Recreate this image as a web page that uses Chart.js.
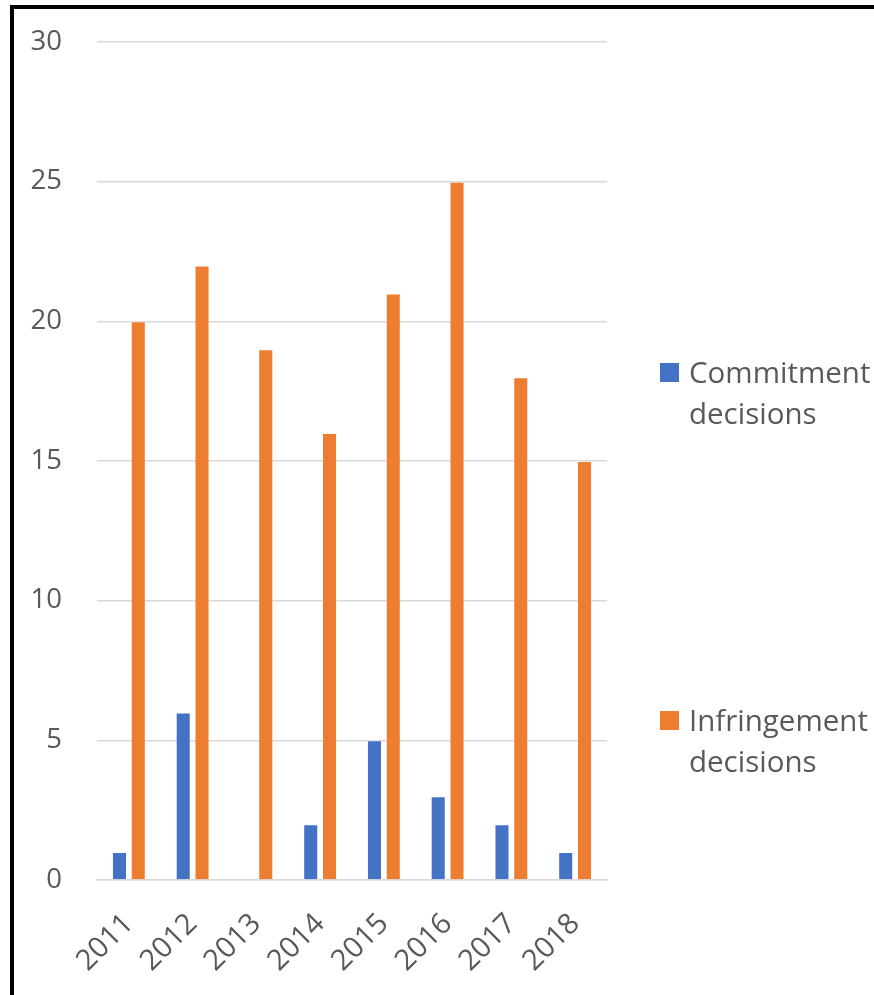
<!DOCTYPE html>
<html lang="en">
<head>
    <meta charset="UTF-8">
    <title>Commitment and infringement decisions</title>
    <style>
        html, body { margin: 0; padding: 0; background: #fff; }
        #wrap { position: relative; width: 874px; height: 995px; overflow: hidden; }
        #frame {
            position: absolute; left: 10px; top: 5px; width: 900px; height: 1000px;
            border-left: 4px solid #000; border-top: 4px solid #000; pointer-events: none;
        }
        canvas { position: absolute; left: 0; top: 0; }
    </style>
</head>
<body>
    <div id="wrap">
        <canvas id="decisionsChart" width="874" height="995"></canvas>
        <div id="frame"></div>
    </div>

    <script src="https://cdn.jsdelivr.net/npm/chart.js"></script>
    <script>
        const years = ['2011', '2012', '2013', '2014', '2015', '2016', '2017', '2018'];
        const commitment = [1, 6, 0, 2, 5, 3, 2, 1];
        const infringement = [20, 22, 19, 16, 21, 25, 18, 15];
        const seriesNames = [['Commitment', 'decisions'], ['Infringement', 'decisions']];

        const fontFamily = '"Open Sans", "Noto Sans", sans-serif';

        // legend drawn on the right, each entry spread like the original
        const sideLegend = {
            id: 'sideLegend',
            afterDraw(chart) {
                const ctx = chart.ctx;
                const tops = [363, 711];
                ctx.save();
                chart.data.datasets.forEach((ds, i) => {
                    const x = chart.chartArea.right + 53;
                    const y = tops[i];
                    ctx.fillStyle = ds.backgroundColor;
                    ctx.fillRect(x, y, 19, 19);
                    ctx.fillStyle = '#595959';
                    ctx.font = '29.5px ' + fontFamily;
                    ctx.textBaseline = 'alphabetic';
                    ctx.textAlign = 'left';
                    ds.label.forEach((line, j) => {
                        ctx.fillText(line, x + 29, y + 20 + j * 41);
                    });
                });
                ctx.restore();
            }
        };

        const ctx = document.getElementById('decisionsChart').getContext('2d');
        new Chart(ctx, {
            type: 'bar',
            data: {
                labels: years,
                datasets: [
                    {
                        label: seriesNames[0],
                        data: commitment,
                        backgroundColor: '#4472C4',
                        borderColor: 'rgba(255,255,255,0.3)',
                        borderWidth: 1
                    },
                    {
                        label: seriesNames[1],
                        data: infringement,
                        backgroundColor: '#ED7D31',
                        borderColor: 'rgba(255,255,255,0.3)',
                        borderWidth: 1
                    }
                ]
            },
            options: {
                responsive: false,
                animation: false,
                categoryPercentage: 0.59,
                barPercentage: 0.8,
                layout: {
                    padding: { top: 42, right: 267, left: 0, bottom: 0 }
                },
                scales: {
                    x: {
                        afterFit(scale) { scale.height = 115; },
                        grid: { display: false, drawTicks: false },
                        border: { display: true, color: '#d9d9d9', width: 1.5 },
                        ticks: {
                            color: '#595959',
                            font: { family: fontFamily, size: 29 },
                            maxRotation: 45,
                            minRotation: 45,
                            padding: 27
                        }
                    },
                    y: {
                        min: 0,
                        max: 30,
                        afterFit(scale) {
                            scale.width = 97;
                            // tick padding would otherwise push the plot down
                            scale.paddingTop = 0;
                            scale.paddingBottom = 0;
                        },
                        grid: { color: '#d9d9d9', lineWidth: 1.5, drawTicks: false },
                        border: { display: false },
                        ticks: {
                            stepSize: 5,
                            color: '#595959',
                            font: { family: fontFamily, size: 27.5 },
                            padding: 35
                        }
                    }
                },
                plugins: {
                    legend: { display: false },
                    tooltip: { enabled: false }
                }
            },
            plugins: [sideLegend]
        });
    </script>
</body>
</html>
